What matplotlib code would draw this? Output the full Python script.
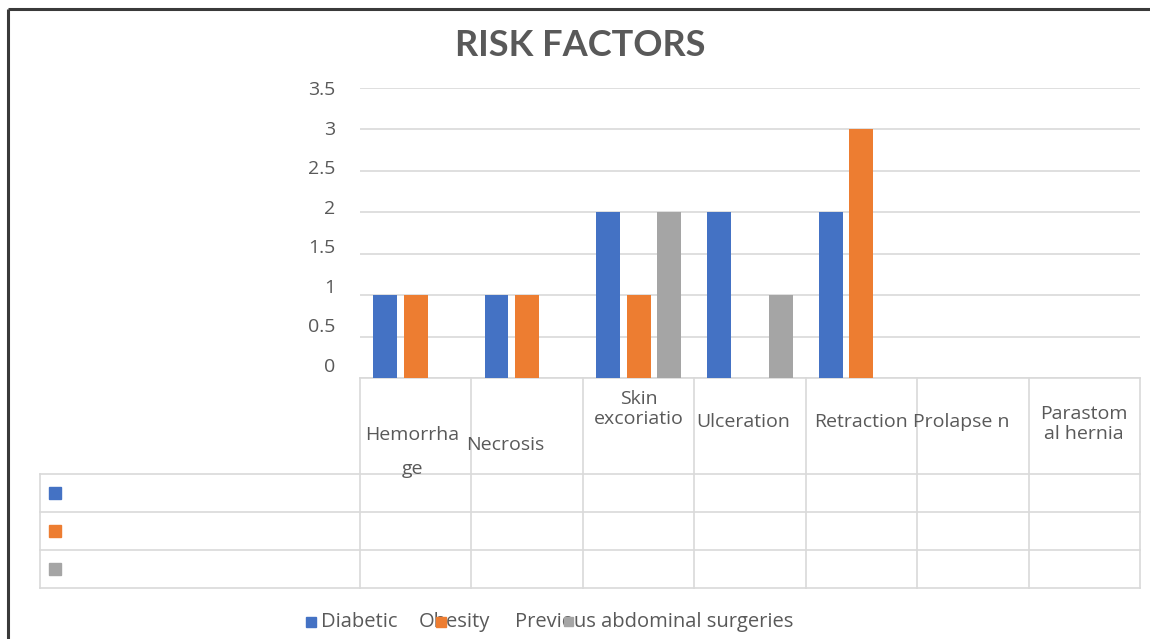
import matplotlib
matplotlib.use("Agg")
import matplotlib.pyplot as plt
import matplotlib.transforms as mtransforms
from matplotlib.patches import Rectangle
import numpy as np

# ---- data ----
categories = ["Hemorrhage", "Necrosis", "Skin excoriation", "Ulceration",
              "Retraction", "Prolapse", "Parastomal hernia"]
header_labels = ["Hemorrha\n\nge", "Necrosis", "Skin\nexcoriatio", "Ulceration",
                 "Retraction", "Prolapse n", "Parastom\nal hernia"]
series_names = ["Diabetic", "Obesity", "Previous abdominal surgeries"]
diabetic = [1, 1, 2, 2, 2, 0, 0]
obesity = [1, 1, 1, 0, 3, 0, 0]
previous = [0, 0, 2, 1, 0, 0, 0]
y_ticks = [0, 0.5, 1, 1.5, 2, 2.5, 3, 3.5]
y_tick_labels = ["0", "0.5", "1", "1.5", "2", "2.5", "3", "3.5"]

colors = ["#4472C4", "#ED7D31", "#A5A5A5"]
text_gray = "#595959"
line_gray = "#D9D9D9"
W, H = 1150, 639
FS = 14

plt.rcParams["font.family"] = ["Open Sans", "DejaVu Sans"]

fig = plt.figure(figsize=(W / 100, H / 100), dpi=100)
fig.patch.set_facecolor("white")


def frac(x0, y0, x1, y1):
    """pixel box (top-left origin) -> figure fraction rect"""
    return [x0 / W, 1 - y1 / H, (x1 - x0) / W, (y1 - y0) / H]


# overlay in pixel coordinates for table, frame, legend
ov = fig.add_axes([0, 0, 1, 1], zorder=0)
ov.set_xlim(0, W)
ov.set_ylim(H, 0)
ov.axis("off")

# plot area
ax = fig.add_axes(frac(360, 88, 1140, 378), zorder=2)
ax.patch.set_alpha(0)
n = len(categories)
x = np.arange(n)
ax.set_xlim(-0.5, n - 0.5)
ax.set_ylim(0, 3.5)
ax.set_yticks(y_ticks)
ax.yaxis.grid(True, color=line_gray, linewidth=1.2)
ax.set_axisbelow(True)
ax.tick_params(length=0, labelleft=False, labelbottom=False)
for s in ax.spines.values():
    s.set_visible(False)

bw, off = 0.215, 0.275
for i, (vals, c) in enumerate(zip([diabetic, obesity, previous], colors)):
    ax.bar(x + (i - 1) * off, vals, width=bw, color=c, zorder=3)

# value-axis labels
axl = fig.add_axes(frac(360, 88, 1140, 365), zorder=1)
axl.patch.set_alpha(0)
axl.set_ylim(0, 3.5)
axl.set_yticks(y_ticks)
axl.set_yticklabels(y_tick_labels, color=text_gray, fontsize=FS)
axl.tick_params(length=0, pad=18, labelbottom=False)
axl.set_xticks([])
for s in axl.spines.values():
    s.set_visible(False)

# data table below the bars
bt = mtransforms.blended_transform_factory(ax.transData, ov.transData)
row_lines = [474, 512, 550, 588]
for b in np.arange(n + 1) - 0.5:
    ov.plot([b, b], [378, 588], color=line_gray, lw=1.2, transform=bt, zorder=1)
ov.plot([-0.5, n - 0.5], [378, 378], color=line_gray, lw=1.2, transform=bt, zorder=1)
for ry in row_lines:
    ov.plot([40, 1140], [ry, ry], color=line_gray, lw=1.2, zorder=1)
ov.plot([40, 40], [474, 588], color=line_gray, lw=1.2, zorder=1)

label_pos = [(-0.03, 452), (-0.2, 445), (0.0, 409), (-0.06, 422),
             (0.0, 422), (-0.1, 422), (0.0, 424)]
spacing = [0.9, 1.2, 1.15, 1.2, 1.2, 1.2, 1.1]
for i, (lab, (dx, yy)) in enumerate(zip(header_labels, label_pos)):
    ov.text(i + dx, yy, lab, transform=bt, ha="center", va="center",
            color=text_gray, fontsize=FS, linespacing=spacing[i])

# series keys in the table rows
for k, c in enumerate(colors):
    cy = (row_lines[k] + row_lines[k + 1]) / 2
    ov.add_patch(Rectangle((49, cy - 6), 12, 12, color=c, zorder=2))

# legend row
LFS = 14.5
ov.add_patch(Rectangle((306, 617), 10, 10, color=colors[0], zorder=3))
ov.text(321, 622, series_names[0], color=text_gray, fontsize=LFS, va="center")
ov.text(419, 622, series_names[1], color=text_gray, fontsize=LFS, va="center")
ov.add_patch(Rectangle((436, 617), 10, 10, color=colors[1], zorder=3))
ov.text(515, 622, series_names[2], color=text_gray, fontsize=LFS, va="center")
ov.add_patch(Rectangle((564, 617), 9, 9, color=colors[2], zorder=3))

# title
ov.text(580, 45, "RISK FACTORS", ha="center", va="center", family="Lato",
        fontsize=26, fontweight="bold", color=text_gray)

# outer frame (top and left edges)
ov.plot([8, W], [9, 9], color="#3a3a3a", lw=2.2, zorder=5, solid_capstyle="butt")
ov.plot([8, 8], [9, H], color="#3a3a3a", lw=2.2, zorder=5, solid_capstyle="butt")

fig.savefig("out.png", dpi=100, facecolor="white")
